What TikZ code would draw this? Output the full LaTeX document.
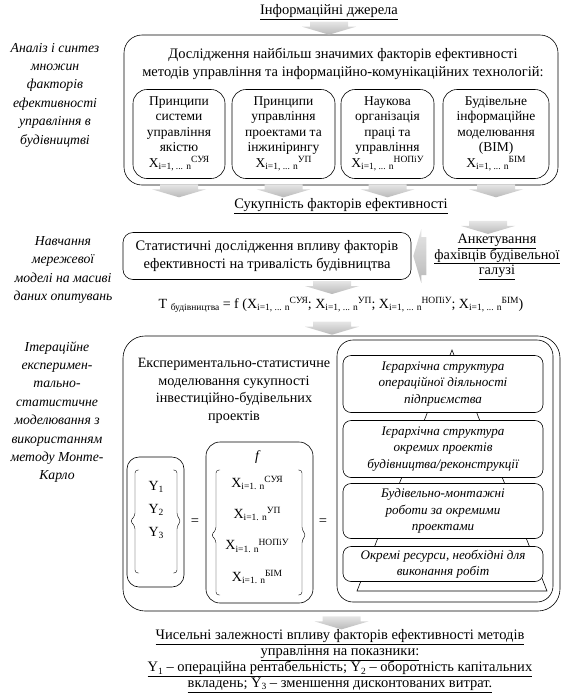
\documentclass[tikz,border=0pt]{standalone}
\usepackage{fontspec}
\setmainfont{Liberation Serif}
\newcommand\xsub[1]{\raisebox{-2.5pt}{\fontsize{9.5}{10}\selectfont #1}}
\newcommand\xsup[1]{\raisebox{4.5pt}{\fontsize{9.5}{10}\selectfont #1}}

\begin{document}
\begin{tikzpicture}[x=1pt,y=-1pt,semithick,
  every node/.style={font=\fontsize{14.5}{17}\selectfont, inner sep=0pt},
  bigbox/.style={draw, rounded corners=18pt},
  factor/.style={draw, rounded corners=14pt, align=center, font=\fontsize{13.5}{15.5}\selectfont},
  level/.style={draw, fill=white, rounded corners=8pt, align=center, minimum width=200pt, font=\fontsize{13.1}{16.5}\selectfont\itshape},
  side/.style={align=center, font=\fontsize{13.7}{18.4}\selectfont\itshape},
  brace/.style={thin, rounded corners=3pt},
  grayarrow/.pic={\shade[top color=gray!20, bottom color=gray!55] (-19,-13) -- (19,-13) -- (19,-8) -- (27,-8) -- (0,0) -- (-27,-8) -- (-19,-8) -- cycle;}]
  \useasboundingbox (0,0) rectangle (565,697);

  % left column
  \node[side] (stage1) at (55,95) {Аналіз і синтез\\множин\\факторів\\ефективності\\управління в\\будівництві};
  \node[side] (stage2) at (63,270) {Навчання\\мережевої\\моделі на масиві\\даних опитувань};
  \node[side] (stage3) at (57,412) {Ітераційне\\експеримен-\\тально-\\статистичне\\моделювання з\\використанням\\методу Монте-\\Карло};

  % analysis of factors
  \node (sources) at (329,12) {\underline{Інформаційні джерела}};
  \node[bigbox, minimum width=434pt, minimum height=150pt] (analysis) at (341,110) {};
  \node[align=center, font=\fontsize{14.5}{17.5}\selectfont] (research) at (343,64) {Дослідження найбільш значимих факторів ефективності\\методів управління та інформаційно-комунікаційних технологій:};
  \node[factor, minimum width=92pt, minimum height=89pt] (suya) at (179,134) {Принципи\\системи\\управління\\якістю\\X\xsub{i=1, ... n}\xsup{СУЯ}};
  \node[factor, minimum width=103pt, minimum height=89pt] (up) at (283.5,134) {Принципи\\управління\\проектами та\\інжинірингу\\X\xsub{i=1, ... n}\xsup{УП}};
  \node[factor, minimum width=93pt, minimum height=89pt] (nopiu) at (387.5,134) {Наукова\\організація\\праці та\\управління\\X\xsub{i=1, ... n}\xsup{НОПіУ}};
  \node[factor, minimum width=106pt, minimum height=89pt] (bim) at (496,134) {Будівельне\\інформаційне\\моделювання\\(BIM)\\X\xsub{i=1, ... n}\xsup{БІМ}};
  \node (total) at (341,206) {\underline{Сукупність факторів ефективності}};

  \pic at (sources.south |- analysis.north) {grayarrow};
  \foreach \f in {suya,up,nopiu,bim}
    \pic[yshift=-12pt] at (\f.south |- analysis.south) {grayarrow};

  % network training
  \node[draw, rounded corners=10pt, minimum width=288pt, minimum height=47pt, align=center, font=\fontsize{14.5}{18}\selectfont] (stat) at (267,256) {Статистичні дослідження впливу факторів\\ефективності на тривалість будівництва};
  \node[align=center, font=\fontsize{14.3}{15.5}\selectfont] (survey) at (497,257) {\underline{Анкетування}\\\underline{фахівців будівельної}\\\underline{галузі}};
  \node[font=\fontsize{14}{16}\selectfont] (model) at (341,305) {T \xsub{будівництва} = f (X\xsub{i=1, ... n}\xsup{СУЯ}; X\xsub{i=1, ... n}\xsup{УП}; X\xsub{i=1, ... n}\xsup{НОПіУ}; X\xsub{i=1, ... n}\xsup{БІМ})};

  \pic[xshift=-8pt] at (bim.south |- survey.north) {grayarrow};
  \pic[rotate=-90] at ([xshift=2pt]stat.east) {grayarrow};
  \pic[xshift=-9pt, yshift=3pt] at (model.north) {grayarrow};

  % monte-carlo modelling
  \node[bigbox, rounded corners=22pt, minimum width=437pt, minimum height=275pt] (experiment) at (341.5,473.5) {};
  \node[align=center, font=\fontsize{14.2}{17.5}\selectfont] (exphead) at (234,391) {Експериментально-статистичне\\моделювання сукупності\\інвестиційно-будівельних\\проектів};
  \pic[xshift=-9pt, yshift=1pt] at (model.south |- experiment.north) {grayarrow};

  \node[draw, rounded corners=12pt, minimum width=57pt, minimum height=130pt] (ybox) at (155.5,522) {};
  \node[align=center, font=\fontsize{14}{23}\selectfont] (yvals) at (156,510) {Y\xsub{1}\\Y\xsub{2}\\Y\xsub{3}};
  \draw[brace] (139,470) -- (135,470) -- (135,516) -- (130,521) -- (135,526) -- (135,573) -- (139,573);
  \draw[brace] (173,470) -- (177,470) -- (177,516) -- (181,521) -- (177,526) -- (177,573) -- (173,573);
  \node (eq1) at (195,522) {=};

  \node[draw, rounded corners=14pt, minimum width=107pt, minimum height=161pt] (fbox) at (259.5,522.5) {};
  \node[font=\fontsize{14}{16}\selectfont\itshape] (fname) at (257,457) {f};
  \node[align=center, font=\fontsize{14}{31.3}\selectfont] (xlist) at (257,530) {X\xsub{i=1. n}\xsup{СУЯ}\\X\xsub{i=1. n}\xsup{УП}\\X\xsub{i=1. n}\xsup{НОПіУ}\\X\xsub{i=1. n}\xsup{БІМ}};
  \draw[brace] (220,470) -- (216,470) -- (216,530) -- (211,535) -- (216,540) -- (216,595) -- (220,595);
  \draw[brace] (298,470) -- (302,470) -- (302,530) -- (306,535) -- (302,540) -- (302,595) -- (298,595);
  \node (eq2) at (323,522) {=};

  \node[draw, rounded corners=16pt, minimum width=216pt, minimum height=262pt] (levels) at (445,471) {};
  \draw (452,350) -- (357,591) -- (547,591) -- cycle;
  \node[level, minimum height=57pt] (company) at (443,384) {Ієрархічна структура\\операційної діяльності\\підприємства};
  \node[level, minimum height=57pt] (projects) at (443,449) {Ієрархічна структура\\окремих проектів\\будівництва/реконструкції};
  \node[level, minimum height=55pt] (works) at (443,511) {Будівельно-монтажні\\роботи за окремими\\проектами};
  \node[level, minimum height=35pt] (resources) at (443,564) {Окремі ресурси, необхідні для\\виконання робіт};

  % result
  \node[align=center, font=\fontsize{14.5}{15.5}\selectfont] (result) at (340,661) {\underline{Чисельні залежності впливу факторів ефективності методів}\\\underline{управління на показники:}\\\underline{Y\xsub{1} – операційна рентабельність; Y\xsub{2} – оборотність капітальних}\\\underline{вкладень; Y\xsub{3} – зменшення дисконтованих витрат.}};
  \pic at (result.north -| experiment.south) {grayarrow};
\end{tikzpicture}
\end{document}
